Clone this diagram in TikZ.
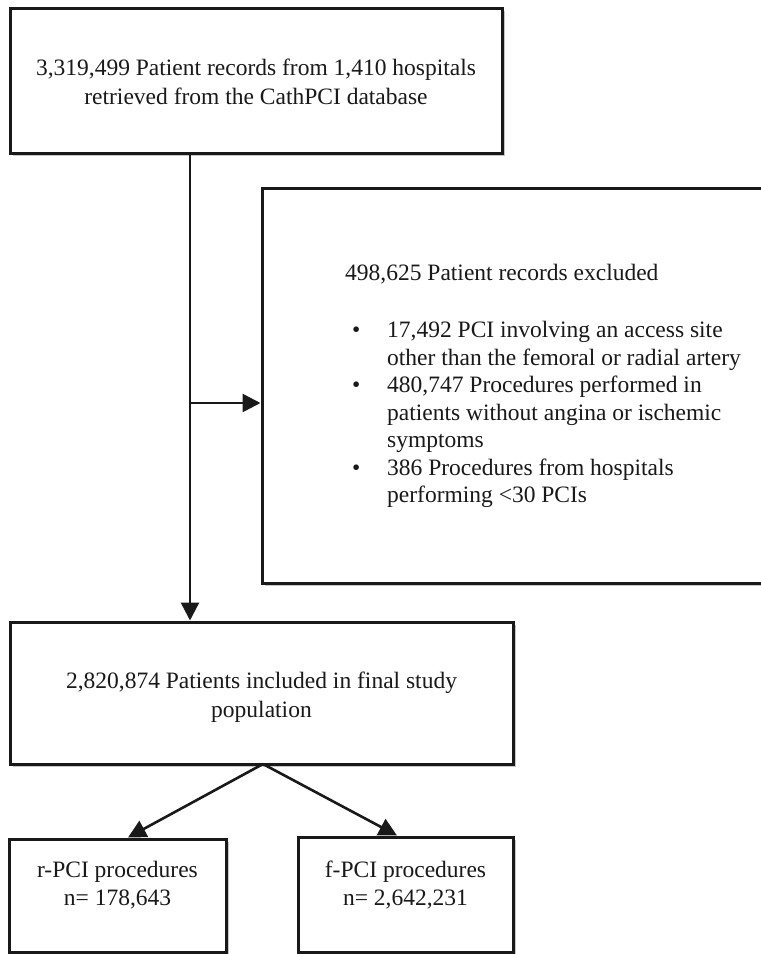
\documentclass[tikz,border=0pt]{standalone}
\usepackage{fontspec}
\setmainfont{Liberation Serif}
\usetikzlibrary{arrows.meta,shadows,calc}
\begin{document}
\begin{tikzpicture}[x=1pt,y=-1pt,
  boxstyle/.style={draw=black!90, line width=3pt, fill=white, rectangle, inner sep=0pt,
    drop shadow={shadow xshift=2.5pt, shadow yshift=-3pt, opacity=0.22, fill=black}},
  txt/.style={font=\fontsize{23.5}{28.5}\selectfont, text=black!90, inner sep=0pt, align=center},
  conn/.style={line width=2.6pt, draw=black!90, -{Triangle[length=18pt,width=18pt]}}]
\useasboundingbox (0,0) rectangle (761,954);
% boxes
\node[boxstyle, minimum width=492, minimum height=145] (b1) at (256,80.5) {};
\node[boxstyle, minimum width=503, minimum height=395] (b2) at (513.5,385.5) {};
\node[boxstyle, minimum width=503, minimum height=142] (b3) at (261.5,693) {};
\node[boxstyle, minimum width=217, minimum height=113] (b4) at (117.5,895.5) {};
\node[boxstyle, minimum width=215, minimum height=115] (b5) at (405.5,894.5) {};
% texts
\node[txt] (t1) at (256,82) {3,319,499 Patient records from 1,410 hospitals\\retrieved from the CathPCI database};
\node[txt] (t3) at (261.5,697) {2,820,874 Patients included in final study\\population};
\node[txt] (t4) at (117.5,885) {r-PCI procedures\\n= 178,643};
\node[txt] (t5) at (405.5,885) {f-PCI procedures\\n= 2,642,231};
\node[txt, anchor=north west, align=left, font=\fontsize{23.5}{27.5}\selectfont] (t2) at (345,264) {%
498,625 Patient records excluded\\[29.5pt]
\makebox[42pt][l]{\hspace{7pt}•}17,492 PCI involving an access site\\
\makebox[42pt]{}other than the femoral or radial artery\\
\makebox[42pt][l]{\hspace{7pt}•}480,747 Procedures performed in\\
\makebox[42pt]{}patients without angina or ischemic\\
\makebox[42pt]{}symptoms\\
\makebox[42pt][l]{\hspace{7pt}•}386 Procedures from hospitals\\
\makebox[42pt]{}performing <30 PCIs};
% connectors
\coordinate (trunk) at (190,153);
\coordinate (branch) at (190,403);
\coordinate (split) at (263,764);
\draw[conn] (b1.south -| trunk) -- (b3.north -| trunk);
\draw[conn] (branch) -- (branch -| b2.west);
\draw[conn] (split) -- ([xshift=10.5pt]b4.north);
\draw[conn] (split) -- ([xshift=-8.5pt]b5.north);
\end{tikzpicture}
\end{document}
